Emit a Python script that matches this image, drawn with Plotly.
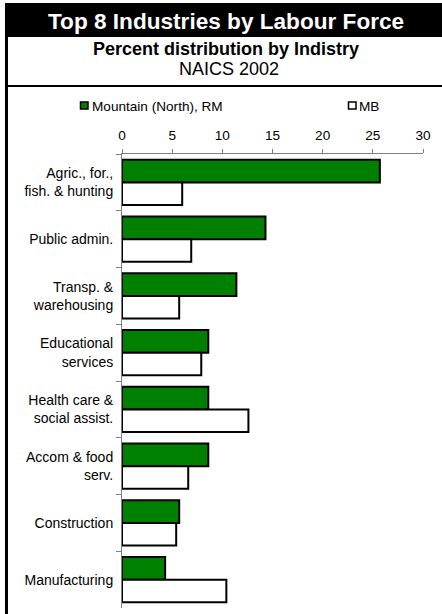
import plotly.graph_objects as go

categories = ["Agric., for.,<br>fish. & hunting", "Public admin.", "Transp. &<br>warehousing",
              "Educational<br>services", "Health care &<br>social assist.", "Accom & food<br>serv.",
              "Construction", "Manufacturing"]
rm_values = [25.7, 14.3, 11.4, 8.6, 8.6, 8.6, 5.7, 4.3]
mb_values = [6.0, 6.9, 5.7, 7.9, 12.6, 6.6, 5.4, 10.4]
series_names = ["Mountain (North), RM", "MB"]
x_ticks = [0, 5, 10, 15, 20, 25, 30]

W, H = 442, 614
L, R, T, B = 122, 423, 154, 608
FONT = "Liberation Sans, Arial, sans-serif"

def px(x):
    return (x - L) / (R - L)

def py(y):
    return (B - y) / (B - T)

fig = go.Figure()
fig.add_trace(go.Bar(y=categories, x=rm_values, orientation="h", name=series_names[0],
                     marker=dict(color="#008000", line=dict(color="black", width=2)),
                     showlegend=False))
fig.add_trace(go.Bar(y=categories, x=mb_values, orientation="h", name=series_names[1],
                     marker=dict(color="white", line=dict(color="black", width=2)),
                     showlegend=False))

shapes = [
    # title bar
    dict(type="rect", xref="paper", yref="paper", x0=px(5), x1=px(443), y0=py(37), y1=py(3),
         fillcolor="black", line=dict(width=0), layer="below"),
    # left border
    dict(type="rect", xref="paper", yref="paper", x0=px(5), x1=px(8), y0=py(615), y1=py(3),
         fillcolor="black", line=dict(width=0)),
    # separator line
    dict(type="rect", xref="paper", yref="paper", x0=px(5), x1=px(443), y0=py(87), y1=py(85),
         fillcolor="black", line=dict(width=0)),
    # legend swatches
    dict(type="rect", xref="paper", yref="paper", x0=px(80.5), x1=px(88), y0=py(109), y1=py(102),
         fillcolor="#008000", line=dict(color="black", width=1.5)),
    dict(type="rect", xref="paper", yref="paper", x0=px(348.5), x1=px(356), y0=py(109), y1=py(102),
         fillcolor="white", line=dict(color="black", width=1.5)),
]

annotations = [
    dict(text="<b>Top 8 Industries by Labour Force</b>", xref="paper", yref="paper",
         x=px(226), y=py(21), showarrow=False, xanchor="center", yanchor="middle",
         font=dict(family=FONT, size=22.6, color="white")),
    dict(text="<b>Percent distribution by Indistry</b>", xref="paper", yref="paper",
         x=px(226), y=py(49), showarrow=False, xanchor="center", yanchor="middle",
         font=dict(family=FONT, size=18, color="black")),
    dict(text="NAICS 2002", xref="paper", yref="paper",
         x=px(229), y=py(69), showarrow=False, xanchor="center", yanchor="middle",
         font=dict(family=FONT, size=18, color="black")),
    dict(text=series_names[0], xref="paper", yref="paper",
         x=px(90), y=py(106), showarrow=False, xanchor="left", yanchor="middle",
         font=dict(family=FONT, size=13.6, color="black")),
    dict(text=series_names[1], xref="paper", yref="paper",
         x=px(357), y=py(106), showarrow=False, xanchor="left", yanchor="middle",
         font=dict(family=FONT, size=13.6, color="black")),
]

fig.update_layout(
    width=W, height=H,
    margin=dict(l=L, r=W - R, t=T, b=H - B, pad=0),
    paper_bgcolor="white", plot_bgcolor="white",
    barmode="group", bargap=0.2, bargroupgap=0,
    font=dict(family=FONT, size=14, color="black"),
    shapes=shapes, annotations=annotations,
    xaxis=dict(side="top", range=[0, 30], tickvals=x_ticks, ticks="outside", ticklen=4,
               tickcolor="#808080", showline=True, linecolor="#808080", linewidth=1,
               showgrid=False, zeroline=False, ticklabelstandoff=4,
               tickfont=dict(family=FONT, size=13.6, color="black")),
    yaxis=dict(autorange="reversed", ticks="outside", ticklen=5, tickson="boundaries",
               tickcolor="#808080", showline=True, linecolor="#808080", linewidth=1,
               showgrid=False, zeroline=False, ticklabelstandoff=5,
               tickfont=dict(family=FONT, size=14, color="black")),
)

fig.write_html("out.html", config={"displayModeBar": False})

# remove default page margin so the figure sits at the window origin
with open("out.html", "r", encoding="utf-8") as f:
    html = f.read()
html = html.replace("<head>", "<head><style>html,body{margin:0;padding:0;overflow:hidden}</style>", 1)
with open("out.html", "w", encoding="utf-8") as f:
    f.write(html)
